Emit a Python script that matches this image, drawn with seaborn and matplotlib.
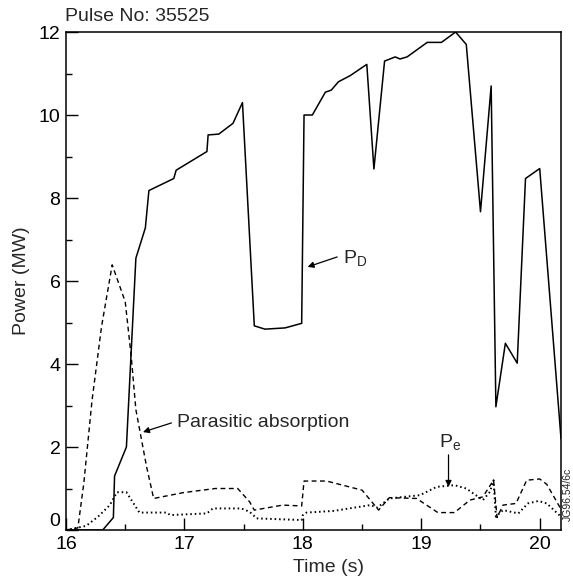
import matplotlib

matplotlib.use("Agg")
import matplotlib.pyplot as plt
import pandas as pd
import seaborn as sns

# %% Data (time in s, power in MW)
pd_time = [16.00, 16.31, 16.40, 16.41, 16.51, 16.59, 16.67, 16.70, 16.91, 16.93,
           17.19, 17.20, 17.29, 17.41, 17.49, 17.59, 17.68, 17.85, 17.99, 18.01,
           18.08, 18.19, 18.24, 18.30, 18.40, 18.54, 18.60, 18.69, 18.78, 18.82,
           18.88, 19.05, 19.17, 19.29, 19.38, 19.50, 19.59, 19.63, 19.71, 19.81,
           19.88, 20.00, 20.18]
pd_power = [0.0, 0.0, 0.3, 1.3, 2.0, 6.55, 7.28, 8.18, 8.47, 8.67,
            9.12, 9.52, 9.54, 9.80, 10.30, 4.92, 4.84, 4.87, 4.98, 10.0,
            10.0, 10.55, 10.60, 10.80, 10.95, 11.22, 8.70, 11.30, 11.40, 11.35,
            11.40, 11.75, 11.75, 12.0, 11.70, 7.67, 10.70, 2.97, 4.50, 4.02,
            8.47, 8.71, 2.20]

par_time = [16.00, 16.10, 16.15, 16.22, 16.30, 16.39, 16.50, 16.55, 16.59, 16.68,
            16.74, 16.99, 17.26, 17.45, 17.55, 17.59, 17.83, 17.99, 18.01, 18.20,
            18.50, 18.64, 18.73, 18.96, 19.14, 19.28, 19.41, 19.52, 19.61, 19.64,
            19.69, 19.80, 19.89, 20.00, 20.06, 20.18]
par_power = [0.0, 0.05, 1.12, 3.13, 4.90, 6.39, 5.50, 4.20, 2.90, 1.53,
             0.76, 0.90, 1.00, 1.00, 0.68, 0.48, 0.60, 0.58, 1.18, 1.18,
             0.96, 0.48, 0.78, 0.76, 0.42, 0.42, 0.72, 0.80, 1.20, 0.30,
             0.60, 0.64, 1.20, 1.23, 1.10, 0.50]

pe_time = [16.00, 16.09, 16.17, 16.27, 16.37, 16.43, 16.51, 16.62, 16.85, 16.88,
           17.19, 17.24, 17.48, 17.55, 17.61, 17.99, 18.00, 18.03, 18.26, 18.57,
           18.63, 18.73, 18.99, 19.13, 19.28, 19.38, 19.52, 19.58, 19.61, 19.63,
           19.69, 19.82, 19.90, 19.99, 20.06, 20.18]
pe_power = [0.0, 0.05, 0.10, 0.32, 0.60, 0.91, 0.91, 0.42, 0.42, 0.36,
            0.40, 0.52, 0.52, 0.44, 0.28, 0.24, 0.36, 0.42, 0.46, 0.60,
            0.54, 0.76, 0.84, 1.04, 1.08, 1.00, 0.72, 0.92, 1.20, 0.32,
            0.48, 0.40, 0.64, 0.70, 0.64, 0.32]

x_ticks = [16, 17, 18, 19, 20]
y_ticks = [0, 2, 4, 6, 8, 10, 12]

# %% Style
sns.set_style("ticks")
plt.rcParams["font.family"] = ["Liberation Sans", "DejaVu Sans"]
plt.rcParams["mathtext.fontset"] = "custom"
plt.rcParams["mathtext.rm"] = "Liberation Sans"
plt.rcParams["mathtext.it"] = "Liberation Sans"

fig = plt.figure(figsize=(5.73, 5.80), dpi=100)
ax = fig.add_axes([0.1152, 0.0862, 0.8639, 0.8586])

sns.lineplot(x=pd_time, y=pd_power, ax=ax, color="black", lw=1.1,
             estimator=None, sort=False)
sns.lineplot(x=par_time, y=par_power, ax=ax, color="black", lw=1.0,
             linestyle=(0, (3.5, 2.5)), estimator=None, sort=False)
sns.lineplot(x=pe_time, y=pe_power, ax=ax, color="black", lw=1.4,
             linestyle=(0, (0.8, 1.5)), estimator=None, sort=False)

ax.set_xlim(16, 20.18)
ax.set_ylim(0, 12)
ax.set_xticks(x_ticks)
ax.set_yticks(y_ticks)
ax.set_xticks([16.5, 17.5, 18.5, 19.5], minor=True)
ax.set_yticks([1, 3, 5, 7, 9, 11], minor=True)
ax.tick_params(which="both", direction="in", labelsize=14, width=1.0,
               color="black", labelcolor="black")
ax.tick_params(which="major", length=8.5, pad=4)
ax.tick_params(which="minor", length=4.3)
for s in ax.spines.values():
    s.set_visible(True)
    s.set_color("black")
    s.set_linewidth(1.1)

# the "0" label sits a little above the corner, clear of "16"
fig.canvas.draw()
ax.get_yticklabels()[0].set_va("bottom")

ax.set_xlabel("Time (s)", fontsize=14)
ax.xaxis.set_label_coords(0.53, -0.076)
ax.xaxis.label.set_va("center")
ax.set_ylabel("Power (MW)", fontsize=14)
ax.yaxis.set_label_coords(-0.089, 0.5)
ax.yaxis.label.set_va("center")

# %% Annotations
arrow = dict(arrowstyle="-|>", color="black", lw=0.9, mutation_scale=9,
             shrinkA=0, shrinkB=0)
ax.text(18.34, 6.55, "P$_\\mathrm{D}$", fontsize=14, va="center", ha="left")
ax.annotate("", xy=(18.04, 6.34), xytext=(18.29, 6.58), arrowprops=arrow)
ax.text(16.94, 2.6, "Parasitic absorption", fontsize=14, va="center", ha="left")
ax.annotate("", xy=(16.65, 2.36), xytext=(16.89, 2.58), arrowprops=arrow)
ax.text(19.24, 2.12, "P$_\\mathrm{e}$", fontsize=14, ha="center", va="center")
ax.annotate("", xy=(19.23, 1.04), xytext=(19.23, 1.81), arrowprops=arrow)

fig.text(0.113, 0.971, "Pulse No: 35525", fontsize=14, ha="left", va="center")
fig.text(0.991, 0.147, "JG96.54/6c", fontsize=7.5, rotation=90,
         ha="center", va="center")

plt.savefig("out.png", dpi=100)
plt.close()
